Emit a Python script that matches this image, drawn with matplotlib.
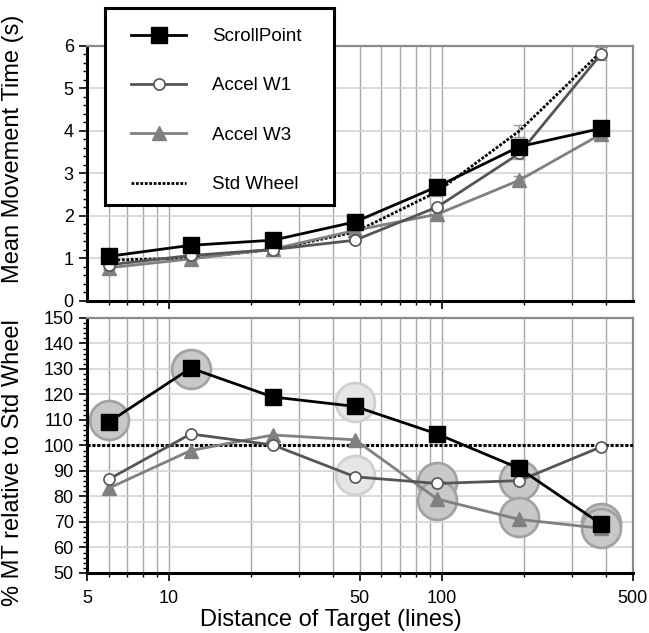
import numpy as np
import matplotlib.pyplot as plt
from matplotlib.patches import Rectangle
from matplotlib.ticker import FixedLocator, NullFormatter, MultipleLocator

plt.rcParams['font.family'] = ['Liberation Sans', 'DejaVu Sans']

# Distance of target (lines)
dist = [6, 12, 24, 48, 96, 192, 384]

# Mean movement time (s)
mt_scroll = [1.05, 1.31, 1.43, 1.86, 2.69, 3.63, 4.06]
mt_w1 = [0.85, 1.07, 1.21, 1.43, 2.21, 3.47, 5.82]
mt_w3 = [0.78, 0.99, 1.22, 1.66, 2.04, 2.84, 3.93]
mt_std = [0.96, 1.01, 1.21, 1.62, 2.57, 4.0, 5.87]

# error bars (s)
err_scroll = [0.03, 0.03, 0.04, 0.05, 0.06, 0.08, 0.08]
err_w1 = [0.03, 0.04, 0.04, 0.05, 0.08, 0.13, 0.16]
err_w3 = [0.03, 0.03, 0.04, 0.05, 0.07, 0.1, 0.08]
err_std = [0.03, 0.03, 0.04, 0.06, 0.1, 0.15, 0.12]

# % MT relative to Std Wheel
pct_scroll = [109.1, 130.3, 119.0, 115.3, 104.5, 91.0, 69.1]
pct_w1 = [86.7, 104.5, 100.2, 87.7, 85.1, 86.2, 99.5]
pct_w3 = [83.2, 98.0, 104.1, 102.2, 79.0, 71.0, 67.5]
std_ref = 100

# significance circles: (distance, value, shade)
sig_x = [6, 12, 48, 48, 96, 96, 192, 192, 384, 384]
sig_y = [110, 130, 117, 88.5, 85.8, 78.6, 86.4, 72.0, 69.5, 67.5]
sig_shade = ['mid', 'mid', 'light', 'light', 'mid', 'mid', 'mid', 'mid', 'mid', 'mid']

shade_fill = {'mid': '#c8c8c8', 'light': '#e6e6e6'}
shade_edge = {'mid': '#a2a2a2', 'light': '#cfcfcf'}

W, H = 649, 633
fig = plt.figure(figsize=(W / 100, H / 100), dpi=100)
ax1 = fig.add_axes([0.134, 0.5245, 0.841, 0.403])
ax2 = fig.add_axes([0.134, 0.0948, 0.841, 0.403])

minor_x = [6, 7, 8, 9, 20, 30, 40, 50, 60, 70, 80, 90, 200, 300, 400]
for ax in (ax1, ax2):
    ax.set_xscale('log')
    ax.set_xlim(5, 500)
    ax.xaxis.set_major_locator(FixedLocator([10, 100]))
    ax.xaxis.set_minor_locator(FixedLocator(minor_x))
    ax.xaxis.set_minor_formatter(NullFormatter())
    ax.grid(True, axis='x', which='both', color='#a8a8a8', lw=1.0, zorder=0)
    ax.grid(True, axis='y', which='major', color='#d4d4d4', lw=1.2, zorder=0)
    ax.set_axisbelow(True)
    for s in ('left', 'bottom'):
        ax.spines[s].set_linewidth(2.2)
        ax.spines[s].set_color('black')
    for s in ('top', 'right'):
        ax.spines[s].set_linewidth(1.6)
        ax.spines[s].set_color('#8a8a8a')
    ax.tick_params(which='major', direction='out', length=6, width=1.2,
                   labelsize=13, colors='black')
    ax.tick_params(which='minor', direction='out', length=3, width=1.0)

# top panel
ax1.set_ylim(0, 6)
ax1.yaxis.set_major_locator(MultipleLocator(1))
ax1.yaxis.set_minor_locator(MultipleLocator(0.2))
ax1.set_xticklabels([])
ax1.set_ylabel('Mean Movement Time (s)', fontsize=17)
ax1.yaxis.set_label_coords(-0.115, 0.596)

ecol = '#999999'
ax1.errorbar(dist, mt_std, yerr=err_std, fmt='none', ecolor=ecol, capsize=4, lw=1.2, zorder=2)
ax1.errorbar(dist, mt_w1, yerr=err_w1, fmt='none', ecolor=ecol, capsize=4, lw=1.2, zorder=2)
ax1.errorbar(dist, mt_w3, yerr=err_w3, fmt='none', ecolor=ecol, capsize=4, lw=1.2, zorder=2)
ax1.errorbar(dist, mt_scroll, yerr=err_scroll, fmt='none', ecolor=ecol, capsize=4, lw=1.2, zorder=2)

h_std, = ax1.plot(dist, mt_std, color='black', ls=(0, (1, 0.6)), lw=2.0, zorder=3,
                  label='Std Wheel')
h_w3, = ax1.plot(dist, mt_w3, color='#808080', lw=2.0, marker='^', ms=10,
                 mec='#808080', mfc='#808080', zorder=4, label='Accel W3')
h_w1, = ax1.plot(dist, mt_w1, color='#555555', lw=2.0, marker='o', ms=8,
                 mec='#555555', mfc='white', mew=1.2, zorder=5, label='Accel W1')
h_sp, = ax1.plot(dist, mt_scroll, color='black', lw=2.0, marker='s', ms=11,
                 zorder=6, label='ScrollPoint')

# legend frame drawn separately so its padding can differ per side
fig.patches.append(Rectangle((105 / W, 1 - 205 / H), 229 / W, 197 / H,
                             transform=fig.transFigure, facecolor='white',
                             edgecolor='black', lw=2.2, zorder=10))
leg = fig.legend(handles=[h_sp, h_w1, h_w3, h_std],
                 loc='upper left', bbox_to_anchor=(131 / W, 1 - 28 / H),
                 fontsize=13.5, frameon=False, labelspacing=1.72,
                 handlelength=2.95, handletextpad=1.35, borderpad=0,
                 borderaxespad=0)
leg.set_zorder(11)

# bottom panel
ax2.set_ylim(50, 150)
ax2.yaxis.set_major_locator(MultipleLocator(10))
ax2.yaxis.set_minor_locator(MultipleLocator(2))
ax2.set_xticks([5, 10, 50, 100, 500])
ax2.set_xticklabels(['5', '10', '50', '100', '500'])
ax2.tick_params(axis='x', which='major', pad=6)
ax2.set_ylabel('% MT relative to Std Wheel', fontsize=17)
ax2.yaxis.set_label_coords(-0.115, 0.431)
ax2.set_xlabel('Distance of Target (lines)', fontsize=17)
ax2.xaxis.set_label_coords(0.447, -0.14)

for xs, ys, sh in zip(sig_x, sig_y, sig_shade):
    ax2.plot([xs], [ys], marker='o', ms=28, mfc=shade_fill[sh], mec=shade_edge[sh],
             mew=2.0, ls='none', zorder=2)

ax2.axhline(std_ref, color='black', ls=(0, (1, 0.6)), lw=2.2, zorder=3)
ax2.plot(dist, pct_w3, color='#808080', lw=2.0, marker='^', ms=10,
         mec='#808080', mfc='#808080', zorder=4)
ax2.plot(dist, pct_w1, color='#555555', lw=2.0, marker='o', ms=8,
         mec='#555555', mfc='white', mew=1.2, zorder=5)
ax2.plot(dist, pct_scroll, color='black', lw=2.0, marker='s', ms=11, zorder=6)

fig.savefig('out.png', dpi=100)
